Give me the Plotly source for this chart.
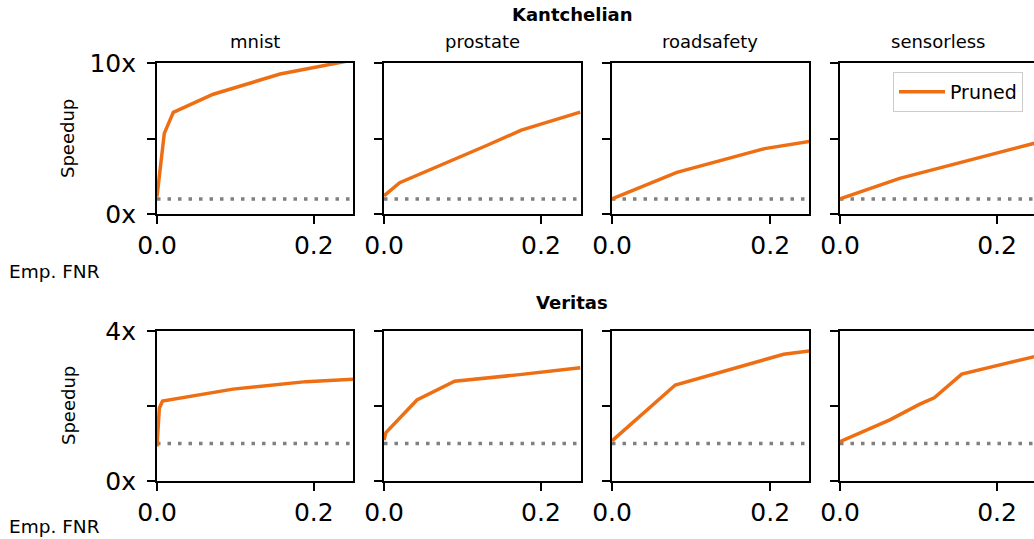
import plotly.graph_objects as go
from plotly.subplots import make_subplots

datasets = ["mnist", "prostate", "roadsafety", "sensorless"]
row_titles = ["Kantchelian", "Veritas"]

# Kantchelian
k_mnist_x = [0.0, 0.0093, 0.0208, 0.0717, 0.157, 0.227, 0.25]
k_mnist_y = [1.15, 5.34, 6.73, 7.93, 9.27, 9.98, 10.2]
k_prostate_x = [0.0, 0.02, 0.13, 0.175, 0.25]
k_prostate_y = [1.2, 2.07, 4.52, 5.55, 6.75]
k_road_x = [0.0, 0.082, 0.193, 0.25]
k_road_y = [1.0, 2.76, 4.33, 4.81]
k_sensor_x = [0.0, 0.076, 0.25]
k_sensor_y = [1.0, 2.36, 4.72]

# Veritas
v_mnist_x = [0.0, 0.003, 0.007, 0.097, 0.19, 0.25]
v_mnist_y = [0.92, 1.94, 2.13, 2.45, 2.65, 2.71]
v_prostate_x = [0.0, 0.0025, 0.042, 0.09, 0.17, 0.25]
v_prostate_y = [1.09, 1.29, 2.16, 2.66, 2.83, 3.02]
v_road_x = [0.0, 0.08, 0.217, 0.25]
v_road_y = [1.07, 2.56, 3.38, 3.47]
v_sensor_x = [0.0, 0.0635, 0.1016, 0.12, 0.155, 0.25]
v_sensor_y = [1.05, 1.63, 2.05, 2.22, 2.85, 3.33]

baseline = 1.0
x_ticks = [0.0, 0.2]
x_ticktext = ["0.0", "0.2"]
y_ticks_top = [0, 5, 10]
y_ticktext_top = ["0x", "", "10x"]
y_ticks_bot = [0, 2, 4]
y_ticktext_bot = ["0x", "", "4x"]

series = [
    [(k_mnist_x, k_mnist_y), (k_prostate_x, k_prostate_y), (k_road_x, k_road_y), (k_sensor_x, k_sensor_y)],
    [(v_mnist_x, v_mnist_y), (v_prostate_x, v_prostate_y), (v_road_x, v_road_y), (v_sensor_x, v_sensor_y)],
]

W, H = 1034, 539
ORANGE = "#EE6E14"
FONT = "DejaVu Sans"

col_px = [(157, 353), (384, 581), (612, 809), (840, 1034)]
row_px = [(63, 214), (331, 481)]
x_ranges = [[0, 0.25], [0, 0.251], [0, 0.249], [0, 0.247]]
y_ranges = [[0, 10], [0, 4]]

fig = make_subplots(rows=2, cols=4)

for r in range(2):
    for c in range(4):
        xs, ys = series[r][c]
        fig.add_trace(go.Scatter(
            x=[0, x_ranges[c][1]], y=[baseline, baseline], mode="lines",
            line=dict(color="#808080", width=3.5, dash="3.5px,7px"),
            showlegend=False, hoverinfo="skip"), row=r + 1, col=c + 1)
        fig.add_trace(go.Scatter(
            x=xs, y=ys, mode="lines", name="Pruned",
            line=dict(color=ORANGE, width=3.5),
            showlegend=(r == 0 and c == 3), legendgroup="p"), row=r + 1, col=c + 1)

for r in range(2):
    for c in range(4):
        idx = r * 4 + c + 1
        xa = "xaxis" if idx == 1 else f"xaxis{idx}"
        ya = "yaxis" if idx == 1 else f"yaxis{idx}"
        x0, x1 = col_px[c]
        y0, y1 = row_px[r]
        fig.layout[xa].update(
            domain=[x0 / W, x1 / W], range=x_ranges[c], automargin=False,
            tickvals=x_ticks, ticktext=x_ticktext,
            ticks="outside", ticklen=8, tickwidth=2, tickcolor="black",
            showline=True, linecolor="black", linewidth=2, mirror=True,
            showgrid=False, zeroline=False,
            tickfont=dict(size=25, color="black", family=FONT))
        fig.layout[ya].update(
            domain=[1 - y1 / H, 1 - y0 / H], range=y_ranges[r], automargin=False,
            tickvals=y_ticks_top if r == 0 else y_ticks_bot,
            ticktext=y_ticktext_top if r == 0 else y_ticktext_bot,
            showticklabels=(c == 0), ticklabelstandoff=6,
            ticks="outside", ticklen=8, tickwidth=2, tickcolor="black",
            showline=True, linecolor="black", linewidth=2, mirror=(c != 3),
            showgrid=False, zeroline=False,
            tickfont=dict(size=25, color="black", family=FONT))

ann = []
def add_text(text, px, py, size=18, bold=False, angle=0, xanchor="center"):
    ann.append(dict(text=f"<b>{text}</b>" if bold else text,
                    x=px / W, y=1 - py / H, xref="paper", yref="paper",
                    showarrow=False, xanchor=xanchor, yanchor="middle",
                    textangle=angle, font=dict(size=size, family=FONT, color="black")))

add_text(row_titles[0], 572, 14, bold=True)
add_text(row_titles[1], 572, 302, bold=True)
title_cx = [255, 482, 710, 938]
for c, name in enumerate(datasets):
    add_text(name, title_cx[c], 41)
add_text("Speedup", 68, 139, angle=-90)
add_text("Speedup", 68, 406, angle=-90)
add_text("Emp. FNR", 7, 271, size=18.5, xanchor="left")
add_text("Emp. FNR", 7, 526, size=18.5, xanchor="left")

fig.update_layout(
    width=W, height=H, autosize=False, template="none",
    margin=dict(l=0, r=0, t=0, b=0, autoexpand=False),
    paper_bgcolor="white", plot_bgcolor="white",
    font=dict(family=FONT, size=18, color="black"),
    annotations=ann,
    legend=dict(x=893 / W, y=1 - 72 / H, xanchor="left", yanchor="top",
                bgcolor="white", bordercolor="#cccccc", borderwidth=1,
                itemwidth=46,
                font=dict(size=19, family=FONT, color="black")),
)

fig.write_html("out.html", config={"displayModeBar": False},
               post_script="document.body.style.margin='0';document.body.style.overflow='hidden';")
